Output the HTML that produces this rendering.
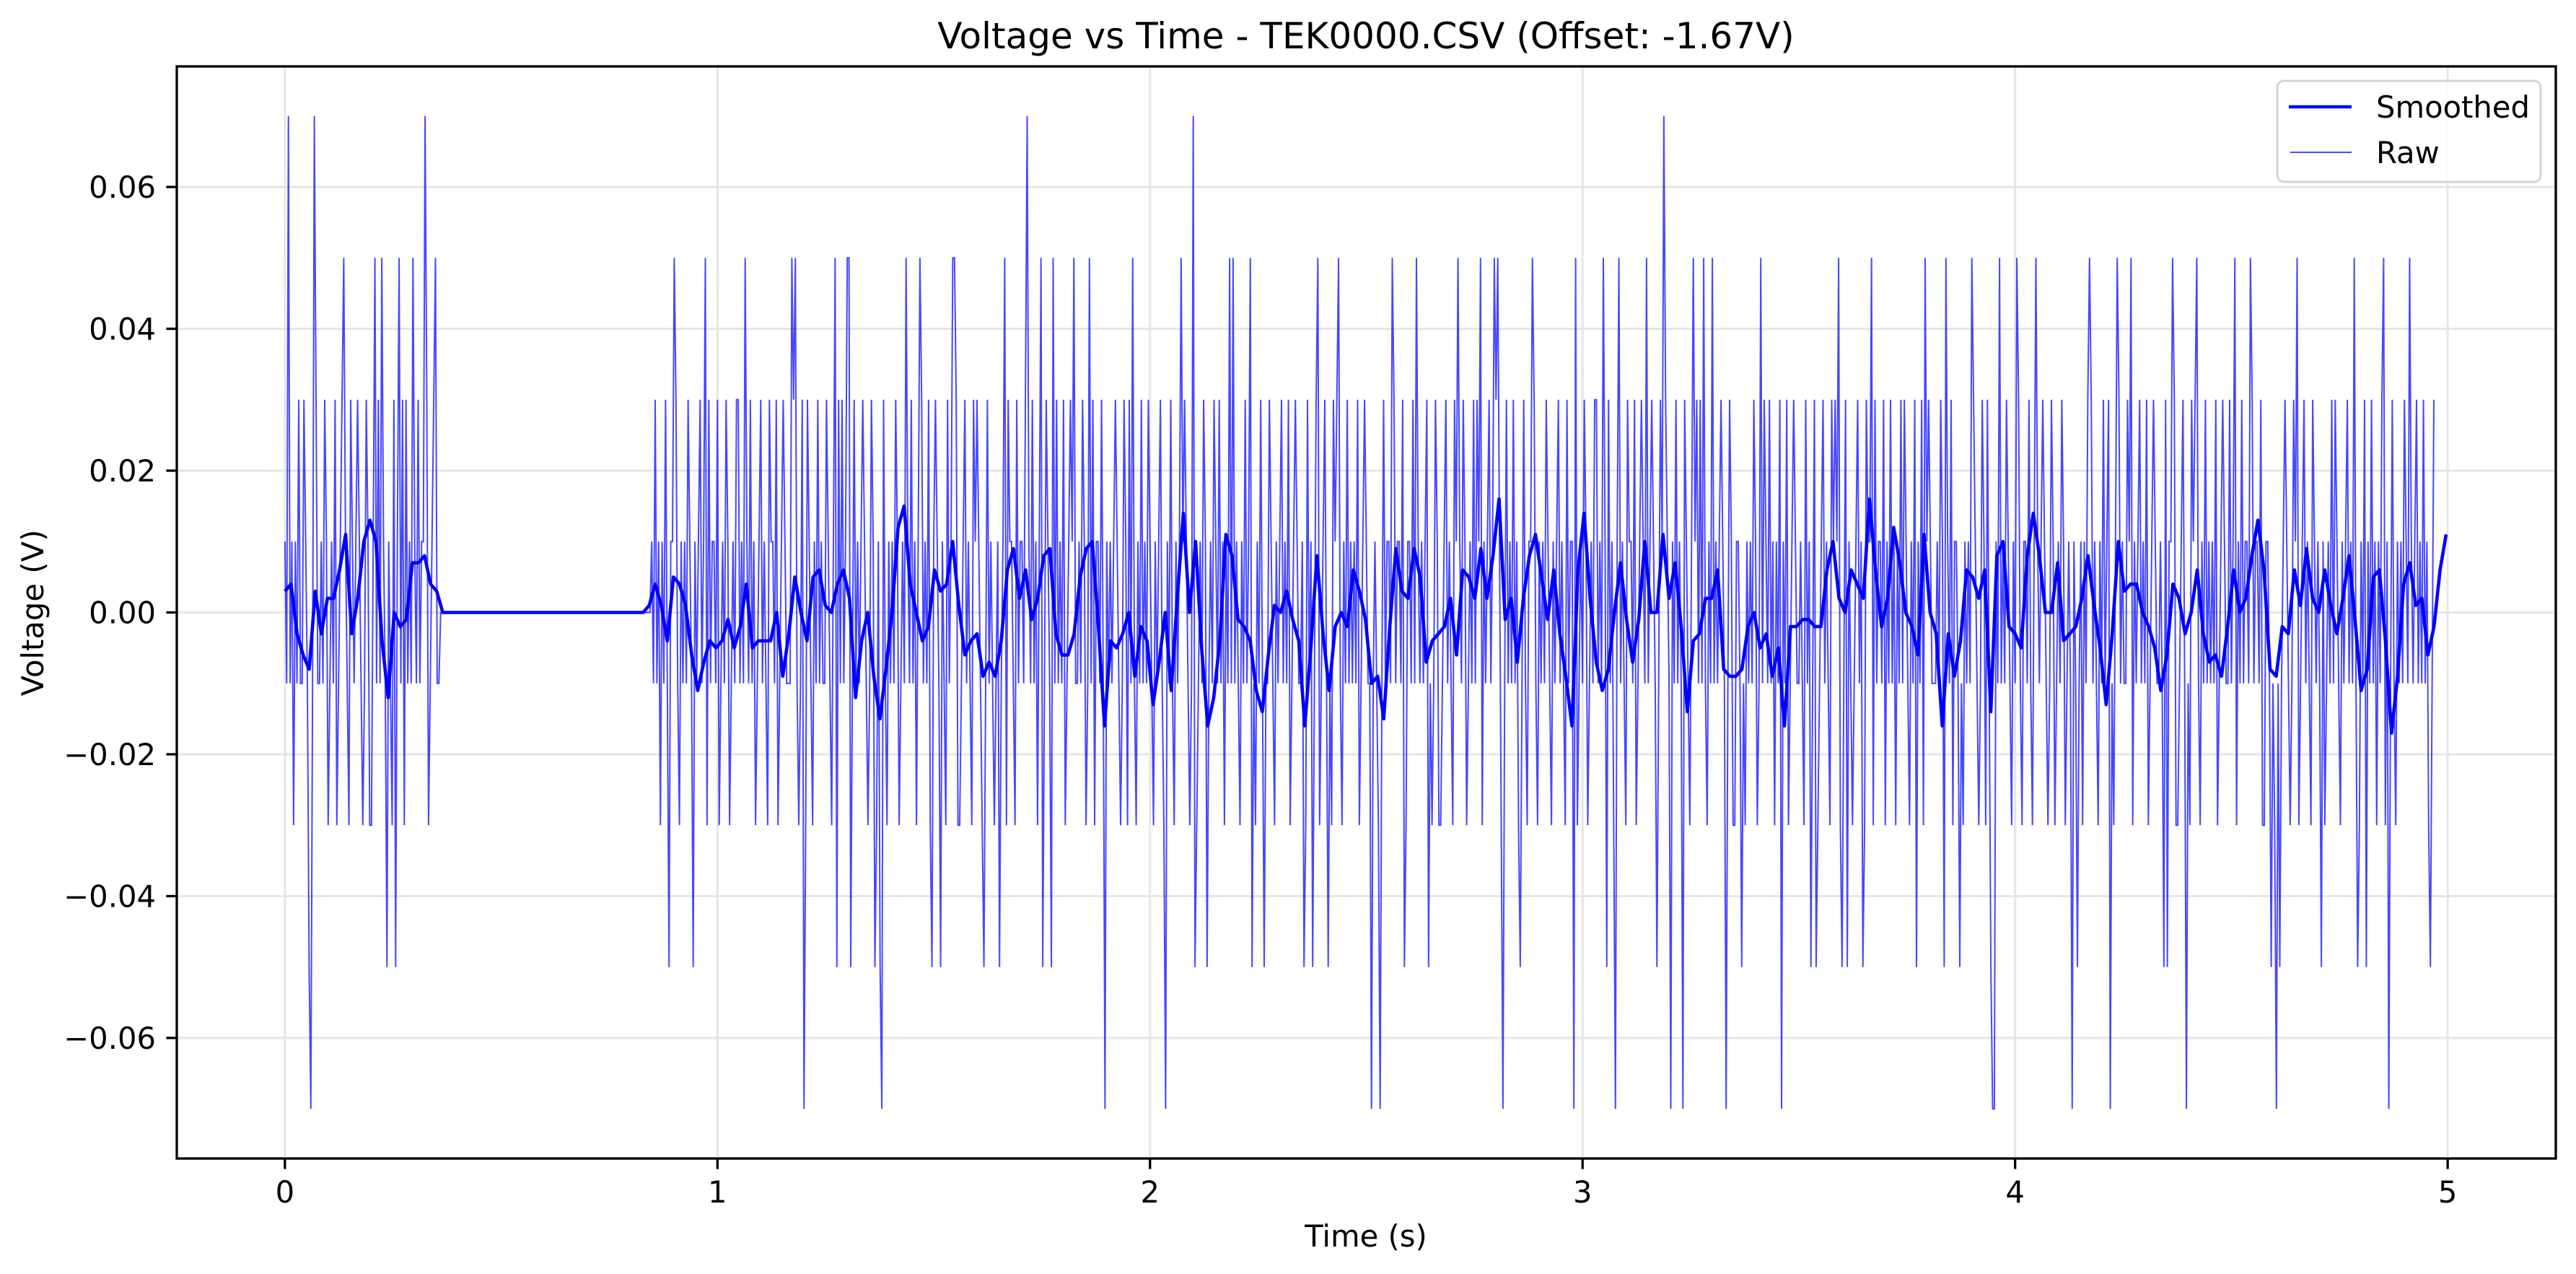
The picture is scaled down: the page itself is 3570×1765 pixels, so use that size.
<!DOCTYPE html>
<html>
<head>
<meta charset="utf-8">
<style>
html,body{margin:0;padding:0;background:#fff;}
svg{display:block;}
text{font-family:"DejaVu Sans","Liberation Sans",sans-serif;fill:#000;}
</style>
</head>
<body>
<svg id="chart" width="3570" height="1765" viewBox="0 0 3570 1765" xmlns="http://www.w3.org/2000/svg">
  <rect x="0" y="0" width="3570" height="1765" fill="#fff"/>
  <defs><clipPath id="plotclip"><rect x="245" y="92" width="3297" height="1513"/></clipPath></defs>
  <g id="grid"></g>
  <g id="series" clip-path="url(#plotclip)"></g>
  <g id="axes"></g>
  <text x="1893" y="67" font-size="50" text-anchor="middle">Voltage vs Time - TEK0000.CSV (Offset: -1.67V)</text>
  <text x="1893" y="1727" font-size="41.7" text-anchor="middle">Time (s)</text>
  <text x="0" y="0" font-size="41.7" text-anchor="middle" transform="translate(60,849) rotate(-90)">Voltage (V)</text>
  <g>
    <rect x="3156" y="112" width="365" height="140" rx="9" ry="9" fill="#fff" fill-opacity="0.8" stroke="#d4d4d4" stroke-width="3"/>
    <line x1="3172" y1="148" x2="3259" y2="148" stroke="#0000ff" stroke-width="4.6"/>
    <text x="3293" y="163" font-size="41.7">Smoothed</text>
    <line x1="3174" y1="211" x2="3259" y2="211" stroke="#0000ff" stroke-opacity="0.72" stroke-width="2"/>
    <text x="3293" y="226" font-size="41.7">Raw</text>
  </g>
</svg>
<script>
// ---- data ----
const xTicks = [0, 1, 2, 3, 4, 5];
const xTickLabels = ["0", "1", "2", "3", "4", "5"];
const yTicks = [-0.06, -0.04, -0.02, 0, 0.02, 0.04, 0.06];
const yTickLabels = ["\u22120.06", "\u22120.04", "\u22120.02", "0.00", "0.02", "0.04", "0.06"];
const xDomain = [-0.25, 5.25];
const yDomain = [-0.077, 0.077];

// raw samples: one code per 4 ms sample (c=-0.03 d=-0.01 0=0 e=0.01 f=0.03)
const rawStep = 0.004;
const rawCodeLevels = {c: -0.03, d: -0.01, "0": 0, e: 0.01, f: 0.03};
const rawCodes = [
 "edfdecedfddfedcedefddedfecdedfcdefdedcfedefedcdfecceedfdcedeedcfdeedfcfdedcedfdeedfcdefedd",
 "00000000000000000000000000000000000000000000000000000000000000000000000000000000000000000000000000000000000000000000000000",
 "edfdecedfdceedfdcededfedcedefdedcfdeedfcdedfecdedffdedcedfdecdefdedcfeedfcdefedddefedcdfecfedcedfded",
 "dfedcedefdfdedcedfdedefedcdfecceedfdcededfecdedfedfdecedfdedfcdefeddedcfdeedfccdefdedcfefedcedfded",
 "cdefdedcfeedcfdeedfcedfdecedfdfedcedfdedfcdefedddedfecdedfceedfdcededefedcdfecfdedcedfdedfedcedefd",
 "ceedfdcededefedcdfecdedfecdedfedfdecedfdfdedcedfdefedcedfdeddfedcedefdedfcdefeddedcfdeedfccdefdedcfe",
 "fedcedfdededfcdefeddfdedcedfdeedcfdeedfcceedfdcededefedcdfeccdefdedcfededfecdedfdfedcedefdedfdecedfd",
 "edfdecedfdceedfdcededfedcedefdedcfdeedfcdedfecdedffdedcedfdecdefdedcfeedfcdefedddefedcdfecfedcedfded",
 "dfedcedefdfdedcedfdedefedcdfecceedfdcededfecdedfedfdecedfdedfcdefeddedcfdeedfccdefdedcfefedcedfded",
 "cdefdedcfeedcfdeedfcedfdecedfdfedcedfdedfcdefedddedfecdedfceedfdcededefedcdfecfdedcedfdedfedcedefd",
 "ceedfdcededefedcdfecdedfecdedfedfdecedfdfdedcedfdefedcedfdeddfedcedefdedfcdefeddedcfdeedfccdefdedcfe",
 "fedcedfdededfcdefeddfdedcedfdeedcfdeedfcceedfdcededefedcdfeccdefdedcfededfecdedfdfedcedefdedfdecedfd",
 "edfdecedfdceedfdcededfedcedefdedfdecedf"
];

// spikes (time in s, value in V)
const spikeTimes = [0.008,0.069,0.325,0.136,0.209,0.222,0.264,0.296,0.347,0.899,0.971,1.063,1.173,1.179,1.271,1.299,1.305,1.435,1.466,1.543,1.547,
 0.056,0.234,0.254,0.888,0.945,1.275,1.306,1.363,1.375,1.494,1.516,0.060,1.201,1.382,
 1.715,2.098,3.188,1.662,1.748,1.774,1.822,1.858,1.958,2.071,2.185,2.193,2.231,2.386,2.436,2.558,2.614,2.710,2.765,2.796,2.802,2.885,2.983,3.050,3.082,3.146,3.254,3.278,3.298,3.413,
 1.616,1.652,1.751,1.773,2.104,2.130,2.235,2.262,2.265,2.356,2.376,2.413,2.588,2.642,2.856,3.055,3.173,3.366,
 1.896,2.038,2.512,2.533,2.817,2.980,3.075,3.203,3.231,3.331,
 3.593,3.668,3.793,3.841,3.901,3.965,4.005,4.049,4.171,4.234,4.269,4.365,4.420,4.506,4.542,4.652,4.785,4.852,4.912,
 3.461,3.529,3.541,3.600,3.610,3.648,3.770,3.837,3.872,3.943,4.142,4.342,4.352,4.590,4.610,4.709,4.794,4.813,4.958,
 3.460,3.947,3.951,4.130,4.218,4.394,4.603,4.865];
const spikeValues = [0.07,0.07,0.07,0.05,0.05,0.05,0.05,0.05,0.05,0.05,0.05,0.05,0.05,0.05,0.05,0.05,0.05,0.05,0.05,0.05,0.05,
 -0.05,-0.05,-0.05,-0.05,-0.05,-0.05,-0.05,-0.05,-0.05,-0.05,-0.05,-0.07,-0.07,-0.07,
 0.07,0.07,0.07,0.05,0.05,0.05,0.05,0.05,0.05,0.05,0.05,0.05,0.05,0.05,0.05,0.05,0.05,0.05,0.05,0.05,0.05,0.05,0.05,0.05,0.05,0.05,0.05,0.05,0.05,0.05,
 -0.05,-0.05,-0.05,-0.05,-0.05,-0.05,-0.05,-0.05,-0.05,-0.05,-0.05,-0.05,-0.05,-0.05,-0.05,-0.05,-0.05,-0.05,
 -0.07,-0.07,-0.07,-0.07,-0.07,-0.07,-0.07,-0.07,-0.07,-0.07,
 0.05,0.05,0.05,0.05,0.05,0.05,0.05,0.05,0.05,0.05,0.05,0.05,0.05,0.05,0.05,0.05,0.05,0.05,0.05,
 -0.05,-0.05,-0.05,-0.05,-0.05,-0.05,-0.05,-0.05,-0.05,-0.05,-0.05,-0.05,-0.05,-0.05,-0.05,-0.05,-0.05,-0.05,-0.05,
 -0.07,-0.07,-0.07,-0.07,-0.07,-0.07,-0.07,-0.07];

// smoothed trace in millivolts, one value per 14.035 ms
const smoothStep = 12/855;
const smoothMv = [3,4,-3,-6,-8,3,-3,2,2,6,11,-3,2,10,13,10,-4,-12,0,-2,-1,7,7,8,4,3,
 0,0,0,0,0,0,0,0,0,0,0,0,0,0,0,0,0,0,0,0,0,0,0,0,0,0,0,0,0,0,0,0,0,0,
 1,4,1,-4,5,4,1,-6,-11,-7,-4,-5,-4,-1,-5,-2,4,-5,-4,-4,-4,0,-9,-3,5,0,-4,5,6,1,0,4,6,2,-12,-4,0,-9,-15,-8,0,12,15,4,0,-4,-2,6,3,4,10,1,-6,
 -4,-3,-9,-7,-9,-4,6,9,2,6,-1,2,8,9,-3,-6,-6,-3,5,9,10,-2,-16,-4,-5,-3,0,-9,-2,-4,-13,-7,0,-11,2,14,0,10,-5,-16,-12,-4,11,8,-1,-2,-4,-11,-14,-6,1,0,3,-1,-4,-16,-5,8,-3,-11,-2,0,-2,6,3,-1,-10,-9,-15,-2,9,3,2,9,5,-7,-4,-3,-2,2,-6,6,5,2,9,2,8,16,-1,2,-7,2,8,11,5,-1,6,-3,-9,-16,6,14,2,-7,-11,-8,0,7,-1,-7,-1,10,0,0,11,2,7,-2,-14,-4,-3,2,2,6,-8,-9,-9,-8,-2,0,-5,
 -3,-9,-5,-16,-2,-2,-1,-1,-2,-2,6,10,2,0,6,4,2,16,6,-2,2,12,7,0,-2,-6,11,0,-3,-16,-3,-9,-4,6,5,2,6,-14,8,10,-2,-3,-5,8,14,8,0,0,7,-4,-3,-2,2,8,1,-5,-13,-3,10,3,4,4,0,-2,-5,-11,-6,4,2,-3,0,6,-3,-7,-6,-9,-2,6,0,2,8,13,6,-8,-9,-2,-3,6,1,9,2,0,6,1,-3,2,8,-1,-11,-8,5,6,-4,-17,-9,4,7,1,2,-6,-2,6,11];

// ---- scales ----
const X0 = 245, X1 = 3542, Y0 = 1605, Y1 = 92;
function xs(t){ return X0 + (t - xDomain[0]) / (xDomain[1] - xDomain[0]) * (X1 - X0); }
function ys(v){ return Y0 - (v - yDomain[0]) / (yDomain[1] - yDomain[0]) * (Y0 - Y1); }

const NS = "http://www.w3.org/2000/svg";
function mk(tag, attrs){ const e = document.createElementNS(NS, tag); for (const k in attrs) e.setAttribute(k, attrs[k]); return e; }

const grid = document.getElementById('grid');
const axes = document.getElementById('axes');
const series = document.getElementById('series');

xTicks.forEach((t, i) => {
  const x = xs(t);
  const g = mk('line', {x1: x, y1: Y1, x2: x, y2: Y0, stroke: '#e6e6e6', 'stroke-width': 3});
  
  
  grid.appendChild(g);
  const tk = mk('line', {x1: x, y1: Y0, x2: x, y2: Y0 + 14.6, stroke: '#000', 'stroke-width': 3.3});
  
  
  axes.appendChild(tk);
  const lb = mk('text', {x: x, y: 1666, 'font-size': 41.7, 'text-anchor': 'middle'});
  lb.textContent = xTickLabels[i];
  
  
  axes.appendChild(lb);
});
yTicks.forEach((v, i) => {
  const y = ys(v);
  const g = mk('line', {x1: X0, y1: y, x2: X1, y2: y, stroke: '#e6e6e6', 'stroke-width': 3});
  
  
  grid.appendChild(g);
  const tk = mk('line', {x1: X0 - 14.6, y1: y, x2: X0, y2: y, stroke: '#000', 'stroke-width': 3.3});
  
  
  axes.appendChild(tk);
  const lb = mk('text', {x: 216, y: y + 15, 'font-size': 41.7, 'text-anchor': 'end'});
  lb.textContent = yTickLabels[i];
  
  
  axes.appendChild(lb);
});
const frame = mk('rect', {x: X0, y: Y1, width: X1 - X0, height: Y0 - Y1, fill: 'none', stroke: '#000', 'stroke-width': 3.3});


axes.appendChild(frame);

// raw series
const codeStr = rawCodes.join('');
const rawVals = [];
for (let i = 0; i < codeStr.length; i++) rawVals.push(rawCodeLevels[codeStr[i]]);
spikeTimes.forEach((t, k) => {
  const idx = Math.round(t / rawStep);
  if (idx >= 0 && idx < rawVals.length) rawVals[idx] = spikeValues[k];
});
let pts = [];
for (let i = 0; i < rawVals.length; i++) {
  const t = Math.min(i * rawStep, 5);
  pts.push(xs(t).toFixed(1) + ',' + ys(rawVals[i]).toFixed(1));
}
const rawLine = mk('polyline', {points: pts.join(' '), fill: 'none', stroke: '#0000ff', 'stroke-opacity': 0.72, 'stroke-width': 2, 'stroke-linejoin': 'miter'});


series.appendChild(rawLine);

// smoothed series
pts = [];
for (let i = 0; i < smoothMv.length; i++) {
  const t = Math.min(i * smoothStep, 5);
  pts.push(xs(t).toFixed(1) + ',' + ys(smoothMv[i] / 1000).toFixed(1));
}
const smLine = mk('polyline', {points: pts.join(' '), fill: 'none', stroke: '#0000ff', 'stroke-width': 4.6, 'stroke-linejoin': 'round'});


series.appendChild(smLine);
</script>
</body>
</html>
